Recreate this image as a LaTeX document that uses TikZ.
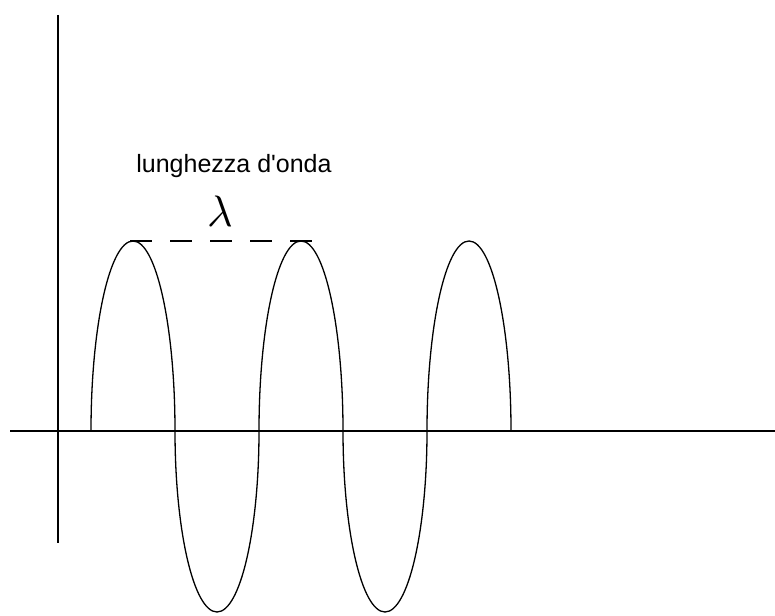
\documentclass[tikz,border=0pt]{standalone}
\usepackage{fontspec}
\setmainfont{Liberation Sans}
\usepackage{tikz}
\usetikzlibrary{positioning, calc}

\begin{document}
\begin{tikzpicture}[x=1pt, y=1pt,
  axis/.style={draw=black, line width=1.4pt},
  wave/.style={draw=black, line width=1.3pt},
  guide/.style={draw=black, line width=1.4pt, dash pattern=on 22pt off 18pt},
  caption/.style={font=\fontsize{25}{30}\selectfont, inner sep=0pt, anchor=base},
  sym/.style={inner sep=0pt, scale=4.4}
]
\useasboundingbox (0,0) rectangle (775,615);

% axes
\coordinate (xl) at (10,184);
\coordinate (xr) at (775,184);
\coordinate (yt) at (58,600);
\coordinate (yb) at (58,72);
\draw[axis] (xl) -- (xr);
\draw[axis] (yt) -- (yb);

% wave
\coordinate (start) at (91,184);
\draw[wave] (start)
  arc[start angle=180, end angle=0,   x radius=42, y radius=190]
  arc[start angle=180, end angle=360, x radius=42, y radius=181]
  arc[start angle=180, end angle=0,   x radius=42, y radius=190]
  arc[start angle=180, end angle=360, x radius=42, y radius=181]
  arc[start angle=180, end angle=0,   x radius=42, y radius=190];

% wavelength
\coordinate (peakA) at (130,374);
\coordinate (peakB) at (312,374);
\draw[guide] (peakA) -- (peakB);
\node[sym] (lam) at (220,404) {$\lambda$};
\node[caption] (lbl) at (234,442) {lunghezza d\textquotesingle onda};
\end{tikzpicture}
\end{document}
